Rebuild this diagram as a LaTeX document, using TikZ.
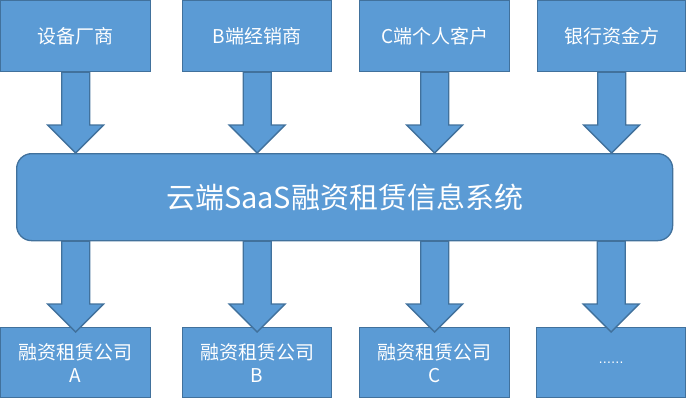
\documentclass[tikz,border=0pt]{standalone}
\usepackage{fontspec}
\setmainfont{Noto Sans CJK SC}
\newfontfamily\dotsfont{DejaVu Sans}
\usetikzlibrary{calc}
\definecolor{boxfill}{HTML}{5B9BD5}
\definecolor{boxline}{HTML}{41719C}
\tikzset{
  box/.style={draw=boxline, fill=boxfill, line width=1.3pt, text=white, anchor=north west,
    inner sep=0pt, align=center, font=\fontsize{19}{23}\selectfont},
  bigbox/.style={box, rounded corners=15pt, font=\fontsize{29}{33}\selectfont},
  blockarrow/.style={draw=boxline, fill=boxfill, line width=1.3pt, line join=miter}
}
\newcommand\barrow[2]{%
  \path[blockarrow] ($(#1)+(-14pt,0)$) -- ($(#2)+(-14pt,28pt)$) -- ($(#2)+(-28pt,28pt)$) -- (#2)
    -- ($(#2)+(28pt,28pt)$) -- ($(#2)+(14pt,28pt)$) -- ($(#1)+(14pt,0)$) -- cycle;}
\begin{document}
\begin{tikzpicture}[x=1pt,y=-1pt]
\useasboundingbox (0,0) rectangle (686,400);
% top boxes
\node[box, minimum width=150pt, minimum height=71pt] (t1) at (0,0) {设备厂商};
\node[box, minimum width=149pt, minimum height=71pt] (t2) at (182,0) {B端经销商};
\node[box, minimum width=150pt, minimum height=71pt] (t3) at (359,0) {C端个人客户};
\node[box, minimum width=148pt, minimum height=71pt] (t4) at (537,0) {银行资金方};
% big box
\node[bigbox, minimum width=656pt, minimum height=87pt] (sys) at (16,153) {云端SaaS融资租赁信息系统};
% bottom boxes
\node[box, minimum width=150pt, minimum height=70pt] (b1) at (0,327) {融资租赁公司\\A};
\node[box, minimum width=149pt, minimum height=70pt] (b2) at (182,327) {融资租赁公司\\B};
\node[box, minimum width=150pt, minimum height=70pt] (b3) at (359,327) {融资租赁公司\\C};
\node[box, minimum width=149pt, minimum height=70pt] (b4) at (536,327) {\dotsfont\fontsize{12.5}{14}\selectfont ……};
% top arrows
\foreach \n in {1,2,3,4}{
  \coordinate (ts\n) at (t\n.south);
  \coordinate (tt\n) at (t\n.south |- sys.north);
  \barrow{ts\n}{tt\n}
}
% bottom arrows
\foreach \n in {1,2,3,4}{
  \coordinate (bs\n) at (sys.south -| b\n.north);
  \coordinate (bt\n) at ($(b\n.north)+(0,-5pt)$);
  \barrow{bs\n}{bt\n}
}
\end{tikzpicture}
\end{document}
